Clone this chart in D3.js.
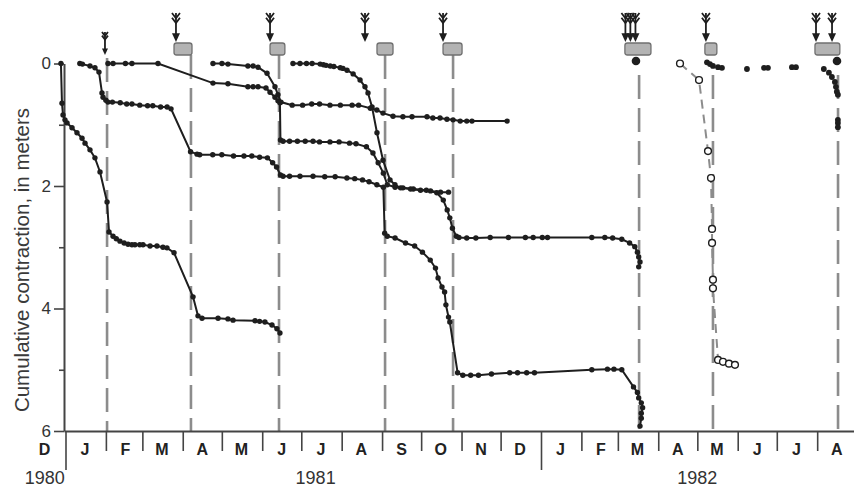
<!DOCTYPE html>
<html>
<head>
<meta charset="utf-8">
<script src="https://cdn.jsdelivr.net/npm/d3@7"></script>
<style>
  body { margin: 0; background: #fff; }
  svg { display: block; font-family: "Liberation Sans", Arial, sans-serif; }
</style>
</head>
<body>
<svg id="main"></svg>
<script>
const width = 854;
const height = 488;

// every x value is a day count from 1 Jan 1981, y values are meters of contraction
const seriesA = [
  [-3.5,0],[-2.7,0.65],[-1.9,0.84],[-0.4,0.92],[1.2,0.97],[5,1.05],[8.8,1.13],[12.7,1.22],[15,1.3],[18.8,1.41],
  [22.6,1.54],[26.5,1.77],[31.9,2.26],[33.4,2.75],[36.5,2.82],[39,2.86],[41.8,2.9],[45,2.93],[48,2.95],[51,2.96],
  [53.3,2.96],[57,2.96],[59.5,2.96],[64.9,2.98],[70.2,2.98],[74.8,3.0],[77.9,3.01],[83.3,3.09],[97.9,3.81],[101.7,4.12],
  [104.8,4.16],[117.1,4.16],[124.7,4.17],[128.6,4.19],[145.5,4.2],[149,4.21],[153.1,4.22],[158.5,4.27],[162.3,4.33],[164.6,4.4]
]
const seriesB = [
  [11,0],[13,0.01],[18.8,0.04],[22.6,0.07],[25.7,0.14],[28,0.48],[28.8,0.55],[31,0.6],[32.6,0.63],[36,0.63],
  [42,0.64],[47,0.66],[51,0.66],[57,0.68],[63,0.69],[67,0.69],[73,0.71],[78,0.71],[81,0.74],[96,1.44],
  [101,1.48],[103,1.49],[113,1.49],[120,1.49],[129,1.51],[137,1.51],[143,1.51],[149,1.53],[155,1.54],[159,1.62],
  [162,1.69],[165,1.82],[167,1.84],[172,1.84],[180,1.84],[190,1.84],[199,1.85],[207,1.85],[216,1.87],[222,1.88],
  [228,1.9],[233,1.93],[239,1.98],[244,2.02],[245,2.77],[247,2.82],[253,2.85],[261,2.93],[268,2.98],[274,3.08],
  [280,3.21],[284,3.34],[286,3.5],[289,3.65],[291,3.73],[292,3.94],[294,4.14],[295,4.22],[301,5.05],[305,5.09],
  [311,5.09],[317,5.09],[327,5.07],[341,5.05],[347,5.05],[354,5.05],[360,5.05],[404,5.0],[416,4.99],[421,4.99],
  [427,5.0],[436,5.28],[439,5.37],[440,5.46],[442,5.54],[443,5.62],[442,5.71],[442,5.79],[441,5.92]
]
const seriesC = [
  [32.6,0],[36.5,0],[46,0],[51,0],[71,0],[113.2,0.32],[124.7,0.33],[140,0.38],[144,0.38],[147.8,0.38],
  [153.9,0.4],[157,0.47],[160.8,0.55],[163.1,0.61],[164.6,0.64],[165,1.25],[167,1.27],[172,1.27],[178,1.27],[184,1.27],
  [190,1.27],[195,1.28],[203,1.28],[210,1.28],[218,1.3],[223,1.31],[231,1.36],[236,1.46],[240,1.62],[244,1.79],
  [247,1.98],[253,2.02],[259,2.03],[267,2.05],[277,2.07],[285,2.11],[290,2.23],[293,2.39],[295,2.52],[297,2.69],
  [300,2.82],[302,2.84],[308,2.85],[315,2.85],[326,2.84],[340,2.84],[353,2.84],[359,2.84],[366,2.84],[370,2.84],
  [404,2.84],[414,2.84],[420,2.85],[427,2.87],[433,2.93],[437,2.99],[439,3.08],[440,3.16],[441,3.24],[440,3.32]
]
const seriesD = [
  [113.2,0],[120.1,0],[124.7,0.01],[140,0.04],[144,0.04],[147.8,0.06],[154.7,0.16],[160.8,0.38],[163.1,0.51],[165.4,0.63],
  [174,0.68],[182,0.68],[189,0.66],[195,0.66],[203,0.68],[211,0.68],[220,0.68],[225,0.68],[234,0.73],[239,0.76],
  [243.7,0.81],[251.4,0.86],[259,0.87],[266,0.87],[277.5,0.87],[282,0.89],[287.5,0.89],[292.8,0.91],[297.5,0.92],[303,0.94],
  [308,0.94],[312,0.94],[339,0.94]
]
const seriesE = [
  [174.6,0],[180,0],[185,0],[189.3,0],[195.5,0.01],[198,0.02],[200,0.03],[203.2,0.04],[206,0.05],[210.9,0.07],
  [213,0.08],[216.1,0.11],[220.8,0.17],[226.1,0.27],[229.9,0.38],[232.2,0.48],[235.3,0.71],[239.1,1.13],[243.7,1.58],[249.1,1.9],
  [252.9,1.98],[257.2,2.03],[264.9,2.05],[272.5,2.07],[280.2,2.08],[287.9,2.1],[294,2.1]
]
const openCircles1982 = [
  [471.7,0],[486.3,0.27],[493.2,1.43],[495.5,1.87],[496.3,2.7],[496.3,2.93],[497,3.53],[497,3.67],
  [500.9,4.84],[504.7,4.87],[509.3,4.9],[513.9,4.92]
]
const dots1982 = [
  [492.4,-0.02],[494.7,0.01],[497,0.04],[500.9,0.06],[503.9,0.07],[523.1,0.09],[536.2,0.07],[539.2,0.07],[557.6,0.06],[560.7,0.06],
  [582.1,0.09],[586,0.15],[588.3,0.22],[590.6,0.3],[591.4,0.38],[592.1,0.46],[592.9,0.51],[592.9,0.92],[592.9,0.97],[592.9,1.04]
]
const bigDots = [[437.9,-0.04],[592.2,-0.04]]

// explosion-like events along the top
const arrowDays = [30.3, 84.8, 157, 229.9, 289.8, 429.8, 433.6, 437.5, 491.6, 576.1, 588.4]
const boxSpans = [[83.3,97.1],[157,168.4],[239.1,251.4],[289.8,304.4],[429.4,449.4],[490.8,500],[575.3,594.4]]
const eventDays = [31.9, 96.3, 163.9, 245.3, 297.5, 440.3, 497, 593]

const monthLabels = ['D','J','F','M','A','M','J','J','A','S','O','N','D','J','F','M','A','M','J','J','A']
const yearLabels = ['1980', '1981', '1982']
const yearLabelDays = [-16, 192, 485]
const yMajor = [0, 2, 4, 6]
const yMinor = [1, 3, 5]

const ink = '#1e1e1e'
const dashGray = '#8c8c8c'

const svg = d3.select('#main').attr('width', width).attr('height', height)

const t0 = Date.UTC(1981, 0, 1)
const day = d => new Date(t0 + d * 864e5)

const x = d3.scaleUtc().domain([day(0), day(365)]).range([65.5, 541])
x.domain([x.invert(64), x.invert(width)]).range([64, width])
const y = d3.scaleLinear().domain([0, 6]).range([63.5, 431])

// event dashed lines
const lineTop = (i) => i >= 5 ? 75 : (i === 0 ? 58 : 55)
svg.append('g').selectAll('line').data(eventDays).join('line')
  .attr('x1', d => x(day(d))).attr('x2', d => x(day(d)))
  .attr('y1', (d, i) => lineTop(i)).attr('y2', y(6))
  .attr('stroke', dashGray).attr('stroke-width', 2.6)
  .attr('stroke-dasharray', '24,9')

// boxes
svg.append('g').selectAll('rect').data(boxSpans).join('rect')
  .attr('x', d => x(day(d[0]))).attr('width', d => x(day(d[1])) - x(day(d[0])))
  .attr('y', 43).attr('height', 12).attr('rx', 2.5)
  .attr('fill', '#b3b3b3').attr('stroke', '#707070').attr('stroke-width', 1.3)

// arrows (the first one, over the February line, is a small single one)
const arrows = svg.append('g')
arrowDays.forEach((d, i) => {
  const cx = x(day(d))
  const small = i === 0
  const top = small ? 32 : 13
  const bot = small ? 55 : 42
  const w = small ? 3 : 4
  const g = arrows.append('g')
  g.append('line').attr('x1', cx).attr('x2', cx).attr('y1', top).attr('y2', bot - 5)
    .attr('stroke', ink).attr('stroke-width', 1.8)
  g.append('path').attr('d', `M${cx - w},${bot - 2.2 * w} L${cx + w},${bot - 2.2 * w} L${cx},${bot} Z`).attr('fill', ink)
  g.append('path')
    .attr('d', `M${cx - w},${top} L${cx},${top + 1.3 * w} L${cx + w},${top} M${cx - w},${top + 1.2 * w} L${cx},${top + 2.5 * w} L${cx + w},${top + 1.2 * w}`)
    .attr('fill', 'none').attr('stroke', ink).attr('stroke-width', 1.8)
})

// y axis
const yAxis = svg.append('g').attr('transform', `translate(${x(day(0)) - 1.5},0)`)
  .call(d3.axisLeft(y).tickValues(yMajor.concat(yMinor)).tickSize(10).tickSizeOuter(0)
    .tickFormat(d => yMajor.includes(d) ? d : ''))
yAxis.select('.domain').attr('stroke', '#444').attr('stroke-width', 2)
yAxis.selectAll('.tick line').attr('stroke', '#444').attr('stroke-width', 1.6)
  .attr('x2', d => yMajor.includes(d) ? -10 : -5)
yAxis.selectAll('.tick text').attr('x', -13).attr('font-size', 17).attr('fill', '#333')
  .attr('font-family', '"Liberation Sans", Arial, sans-serif')

svg.append('text')
  .attr('transform', `translate(29,260) rotate(-90)`)
  .attr('text-anchor', 'middle').attr('font-size', 20.5).attr('fill', '#3a3a3a')
  .text('Cumulative contraction, in meters')

// x axis with month ticks
const monthStarts = d3.utcMonth.range(day(31), new Date(Date.UTC(1982, 7, 2)))
const xAxis = svg.append('g').attr('transform', `translate(0,${y(6)})`)
  .call(d3.axisBottom(x).tickValues([day(0)].concat(monthStarts)).tickSize(20).tickSizeOuter(0).tickFormat(''))
xAxis.select('.domain').attr('stroke', '#444').attr('stroke-width', 2)
xAxis.selectAll('.tick line').attr('stroke', '#444').attr('stroke-width', 1.6)
  .attr('y2', d => d.getUTCMonth() === 0 ? 39 : 20)

const monthMid = i => new Date(Date.UTC(1980, 11 + i, 16))
svg.append('g').selectAll('text').data(monthLabels).join('text')
  .attr('x', (d, i) => x(monthMid(i))).attr('y', 455)
  .attr('text-anchor', 'middle').attr('font-size', 16).attr('font-weight', 'bold').attr('fill', '#222')
  .text(d => d)

svg.append('g').selectAll('text').data(yearLabels).join('text')
  .attr('x', (d, i) => x(day(yearLabelDays[i]))).attr('y', 484)
  .attr('text-anchor', 'middle').attr('font-size', 18).attr('fill', '#333')
  .text(d => d)

// data series
const line = d3.line().x(d => x(day(d[0]))).y(d => y(d[1]))
const plot = svg.append('g')
const solid = [seriesA, seriesB, seriesC, seriesD, seriesE]
solid.forEach(s => {
  plot.append('path').attr('d', line(s)).attr('fill', 'none').attr('stroke', ink).attr('stroke-width', 2)
  plot.append('g').selectAll('circle').data(s).join('circle')
    .attr('cx', d => x(day(d[0]))).attr('cy', d => y(d[1])).attr('r', 2.7).attr('fill', ink)
})

plot.append('path').attr('d', line(openCircles1982)).attr('fill', 'none')
  .attr('stroke', dashGray).attr('stroke-width', 2).attr('stroke-dasharray', '9,6')
plot.append('g').selectAll('circle').data(openCircles1982).join('circle')
  .attr('cx', d => x(day(d[0]))).attr('cy', d => y(d[1])).attr('r', 3.4)
  .attr('fill', '#fff').attr('stroke', ink).attr('stroke-width', 1.4)

plot.append('g').selectAll('circle').data(dots1982).join('circle')
  .attr('cx', d => x(day(d[0]))).attr('cy', d => y(d[1])).attr('r', 2.9).attr('fill', ink)
plot.append('g').selectAll('circle').data(bigDots).join('circle')
  .attr('cx', d => x(day(d[0]))).attr('cy', d => y(d[1])).attr('r', 4.3).attr('fill', ink)
</script>
</body>
</html>
